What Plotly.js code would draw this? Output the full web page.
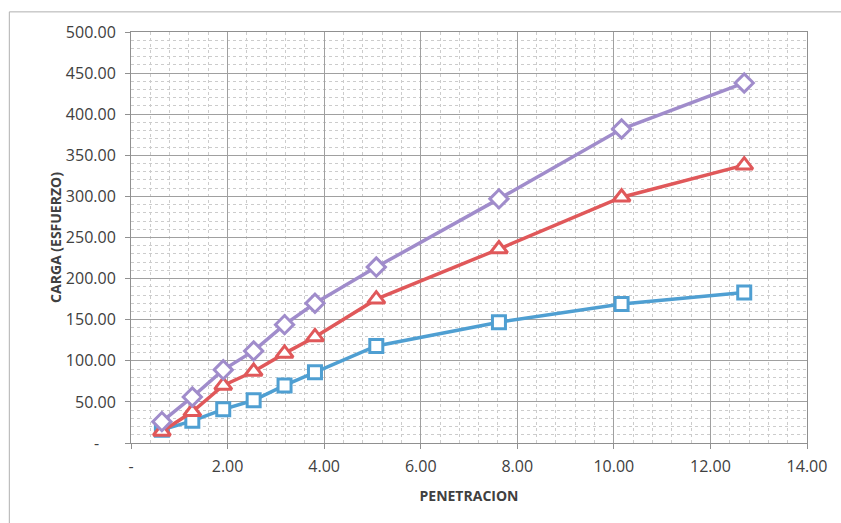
<!DOCTYPE html>
<html><head><meta charset="utf-8">
<script src="https://cdn.plot.ly/plotly-3.0.1.min.js"></script>
<style>html,body{margin:0;padding:0;background:#fff}#chart{width:841px;height:523px}</style>
</head><body><div id="chart"></div>
<script>
const penetracion = [0.64, 1.27, 1.91, 2.54, 3.18, 3.81, 5.08, 7.62, 10.16, 12.70];
const serieAzul   = [16, 27, 41, 52, 70, 86, 118, 147, 169, 183];
const serieRoja   = [14, 38, 70, 87, 109, 129, 175, 236, 299, 338];
const serieMorada = [26, 56, 89, 112, 144, 170, 214, 297, 382, 438];
const xTickVals = [0, 2, 4, 6, 8, 10, 12, 14];
const xTickText = ['-', '2.00', '4.00', '6.00', '8.00', '10.00', '12.00', '14.00'];
const yTickVals = [0, 50, 100, 150, 200, 250, 300, 350, 400, 450, 500];
const yTickText = ['-\u00a0\u00a0\u00a0\u00a0', '50.00', '100.00', '150.00', '200.00', '250.00', '300.00', '350.00', '400.00', '450.00', '500.00'];

function serie(y, color, symbol, size, name) {
  return {x: penetracion, y: y, name: name, type: 'scatter', mode: 'lines+markers',
    line: {color: color, width: 3.5},
    marker: {symbol: symbol, size: size, color: '#ffffff', line: {color: color, width: 3}}};
}
const data = [
  serie(serieAzul, '#4f9fd2', 'square', 13, 'Serie 1'),
  serie(serieRoja, '#e0585a', 'triangle-up', 15, 'Serie 2'),
  serie(serieMorada, '#a08ccb', 'diamond', 14, 'Serie 3')
];

const fontFam = '"Open Sans", "Liberation Sans", sans-serif';
const layout = {
  width: 841, height: 523,
  margin: {l: 131, r: 34, t: 32, b: 80},
  paper_bgcolor: '#ffffff', plot_bgcolor: '#ffffff',
  showlegend: false,
  font: {family: fontFam, color: '#404040', size: 16},
  xaxis: {
    range: [0, 14], tickvals: xTickVals, ticktext: xTickText,
    showgrid: true, gridcolor: '#a0a0a0', gridwidth: 1,
    minor: {dtick: 0.4, tick0: 0, showgrid: true, gridcolor: '#cccccc', gridwidth: 1, griddash: 'dot'},
    showline: true, linecolor: '#909090', ticks: 'outside', ticklen: 5, tickcolor: '#909090',
    zeroline: false, mirror: true, ticklabelstandoff: 4,
    tickfont: {size: 16, color: '#404040', family: fontFam},
    title: {text: 'PENETRACION', font: {size: 14, color: '#404040', family: fontFam, weight: 'bold'}, standoff: 14}
  },
  yaxis: {
    range: [0, 500], tickvals: yTickVals, ticktext: yTickText,
    showgrid: true, gridcolor: '#a0a0a0', gridwidth: 1,
    minor: {dtick: 10, tick0: 0, showgrid: true, gridcolor: '#cccccc', gridwidth: 1, griddash: 'dot'},
    showline: true, linecolor: '#909090', ticks: 'outside', ticklen: 5, tickcolor: '#909090',
    zeroline: false, mirror: true, ticklabelstandoff: 6,
    tickfont: {size: 16, color: '#404040', family: fontFam},
    title: {text: 'CARGA (ESFUERZO)', font: {size: 14, color: '#404040', family: fontFam, weight: 'bold'}, standoff: 0}
  },
  shapes: [
    {type: 'line', xref: 'paper', yref: 'paper', x0: -0.18, x1: 1.06, y0: 1.049, y1: 1.049, line: {color: '#b0b0b0', width: 1}},
    {type: 'line', xref: 'paper', yref: 'paper', x0: -0.18, x1: -0.18, y0: 1.049, y1: -0.2, line: {color: '#b0b0b0', width: 1}}
  ]
};
Plotly.newPlot('chart', data, layout, {displayModeBar: false, staticPlot: true});
</script></body></html>
